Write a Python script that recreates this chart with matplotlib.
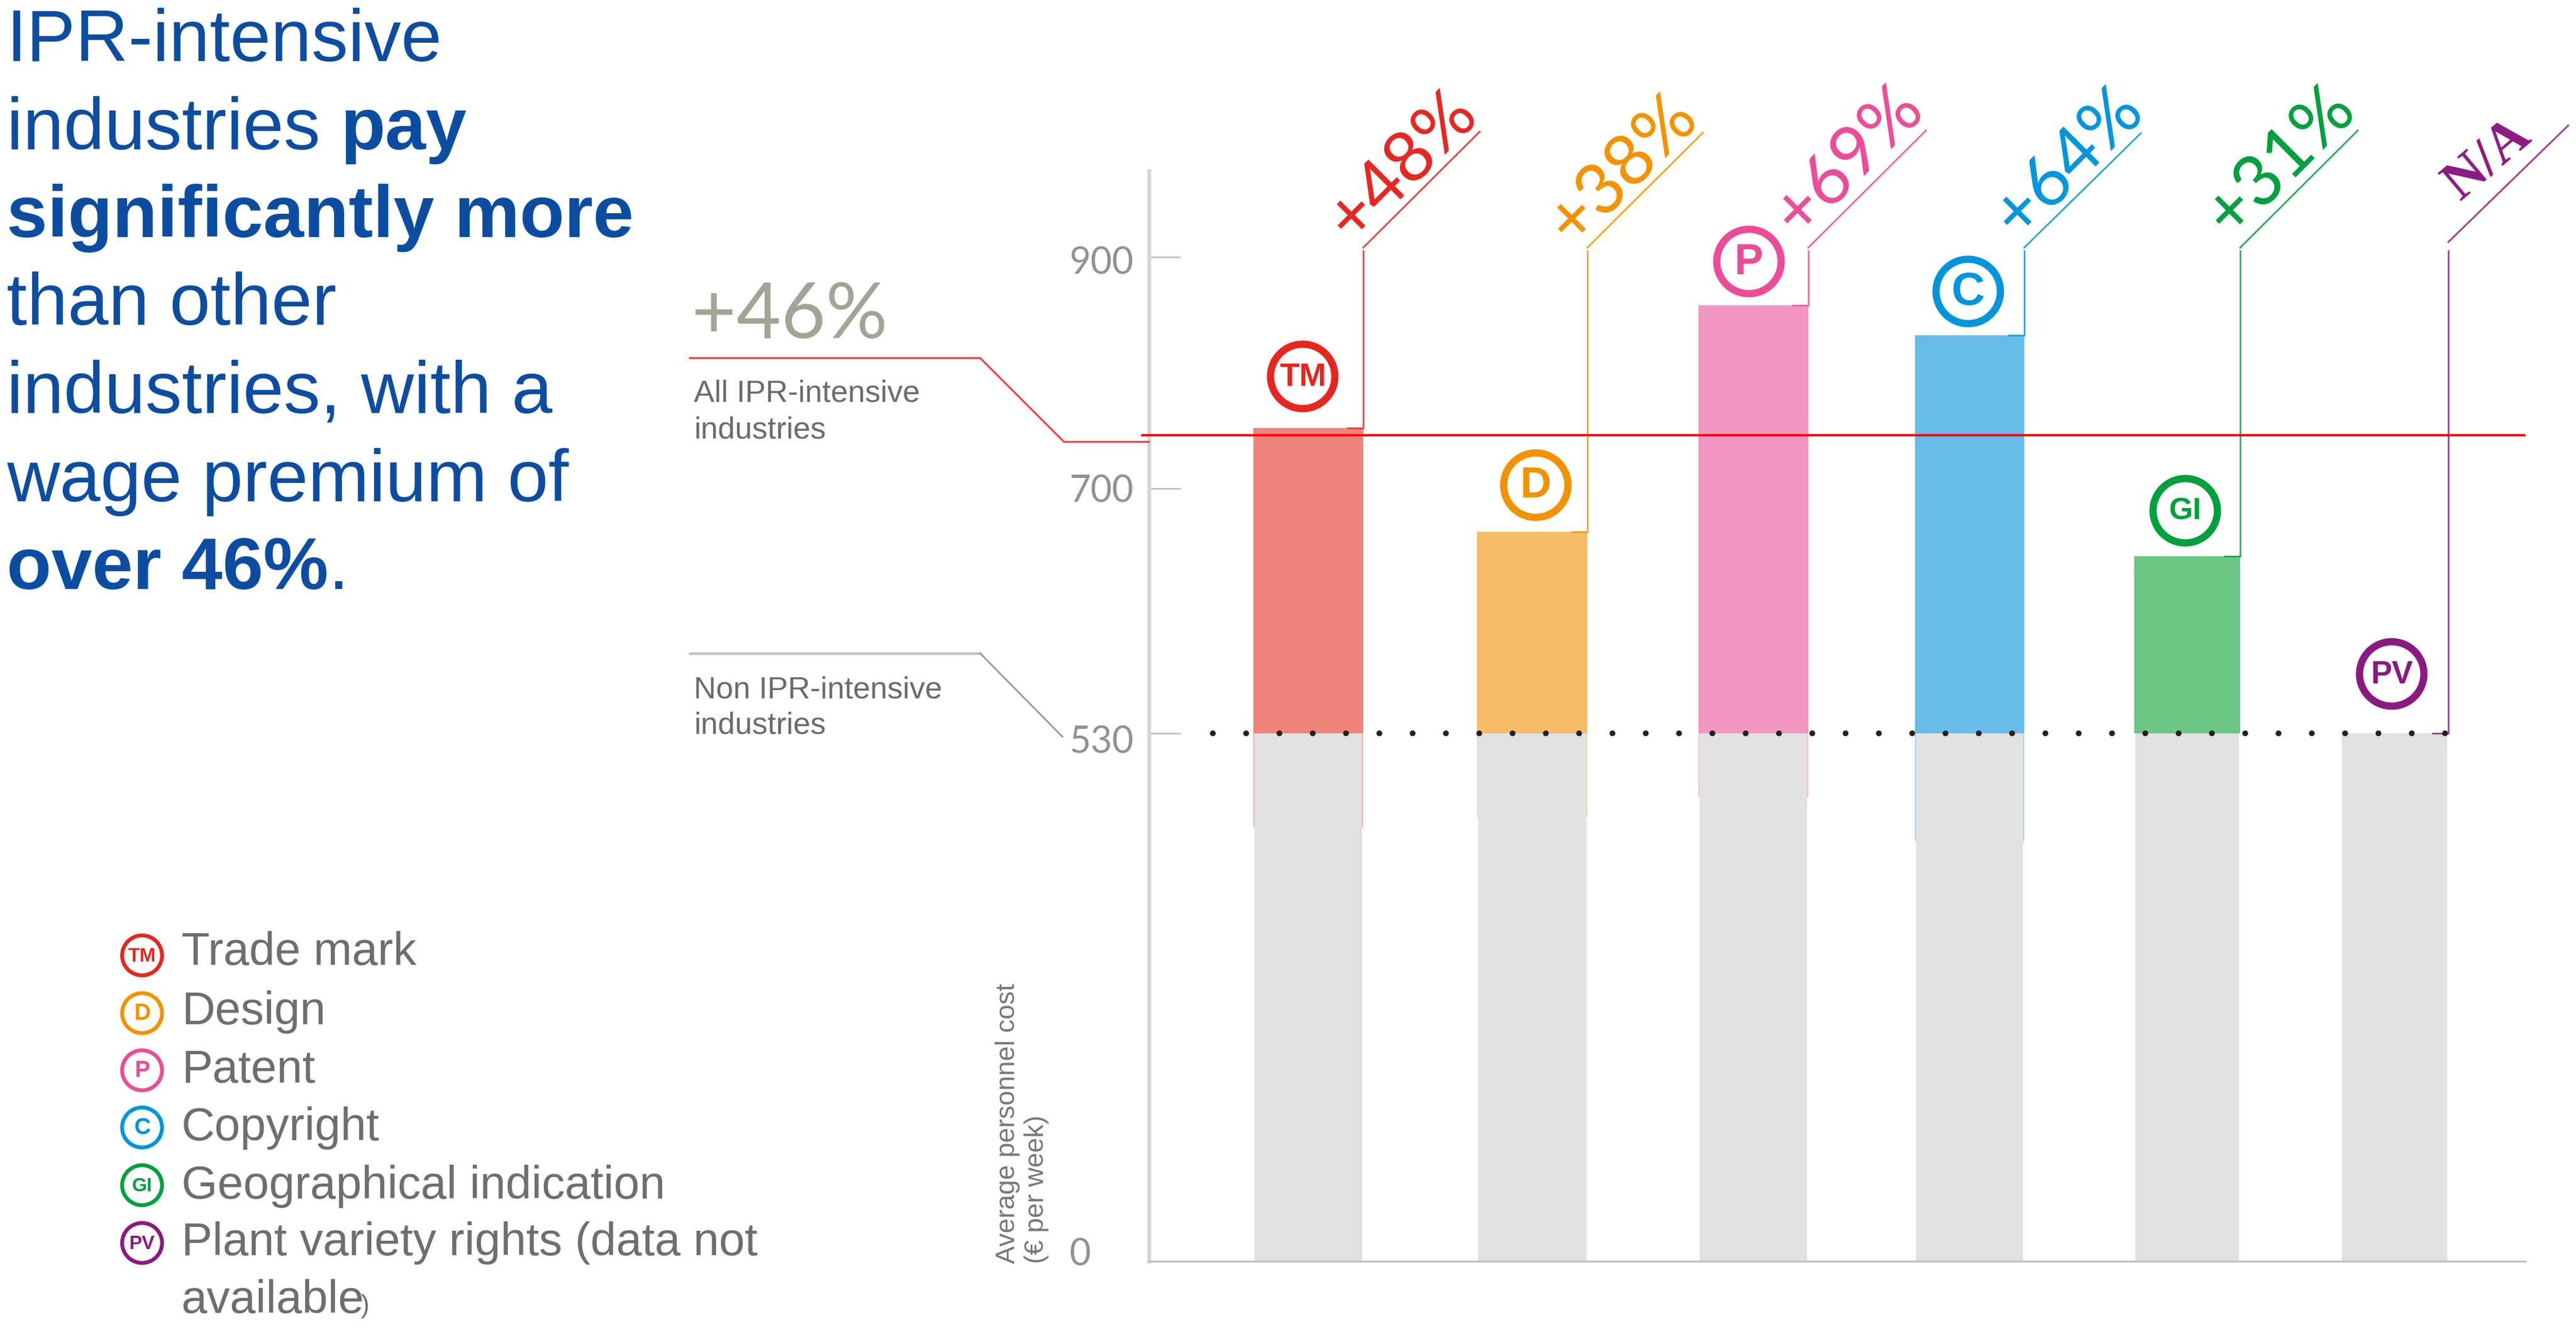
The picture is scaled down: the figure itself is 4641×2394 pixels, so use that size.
import numpy as np
import matplotlib
matplotlib.use("Agg")
from matplotlib import pyplot as plt
from matplotlib.patches import Circle
from matplotlib.transforms import ScaledTranslation

# data
codes = ["TM", "D", "P", "C", "GI", "PV"]
names = ["Trade mark", "Design", "Patent", "Copyright", "Geographical indication",
         "Plant variety rights (data not"]
premium_labels = ["+48%", "+38%", "+69%", "+64%", "+31%", "N/A"]
ipr_values = [752, 670, 858, 832, 653, 530]
stub_bottoms = [436, 445, 465, 421, 530, 530]
non_ipr_value = 530
all_ipr_value = 746
y_ticks = [0, 530, 700, 900]
title_lines = [
    [("IPR-intensive", "normal")],
    [("industries ", "normal"), ("pay", "bold")],
    [("significantly more", "bold")],
    [("than other", "normal")],
    [("industries, with a", "normal")],
    [("wage premium of", "normal")],
    [("over 46%", "bold"), (".", "normal")],
]

# colours
line_colors = ["#e6261f", "#f39200", "#ea4c97", "#0095db", "#00a03c", "#8a1a80"]
bar_colors = ["#f0837a", "#f6bc68", "#f397c2", "#66bdea", "#6cc684", "#e1e1e1"]
grey_bar = "#e1e1e1"
text_grey = "#6e6e6e"
blue = "#0c4da2"

# layout, in pixels of the output
W, H = 4641, 2394
bar_left = [2258, 2661, 3060, 3450, 3845, 4217]
bar_right = [2456, 2860, 3258, 3647, 4036, 4411]
badge_x = [2347, 2767, 3151, 3546, 3937, 4309]
badge_y = [678, 874, 471, 525, 920, 1214]
badge_size = [42, 56, 56, 60, 40, 41]
diag_end = [(2666, 237), (3068, 239), (3470, 235), (3857, 240), (4248, 235), (4627, 226)]
diag_start_y = [446, 446, 446, 446, 446, 436]
label_pos = [(2526, 299), (2923, 305), (3330, 289), (3726, 292), (4108, 290), (4482, 288)]
legend_y = [1721, 1825, 1928, 2031, 2135, 2239]
legend_base = [1738, 1845, 1950, 2054, 2159, 2261]
legend_size = [25, 30, 30, 30, 25, 25]

plt.rcParams["font.family"] = ["Liberation Sans", "DejaVu Sans"]

fig = plt.figure(figsize=(W / 100, H / 100), dpi=100)
ax = fig.add_axes([2070 / W, (H - 2272) / H, (4550 - 2070) / W, (2272 - 308) / H])

# the axis of the original is not to scale, so it is piecewise linear
knots_val = [0, 530, 700, 900, 1200]
knots_pos = [0, 951, 1392, 1809, 2436]
ax.set_yscale("function", functions=(
    lambda v: np.interp(v, knots_val, knots_pos),
    lambda p: np.interp(p, knots_pos, knots_val),
))
ax.set_xlim(2070, 4550)
ax.set_ylim(0, 974)

for i in range(6):
    left, right = bar_left[i], bar_right[i]
    width = right - left
    if stub_bottoms[i] < non_ipr_value:
        ax.bar(left, non_ipr_value - stub_bottoms[i], width, bottom=stub_bottoms[i],
               align="edge", color=bar_colors[i], alpha=0.6, zorder=1)
    ax.bar(left + 2, non_ipr_value, width - 4, align="edge", color=grey_bar, zorder=2)
    if ipr_values[i] > non_ipr_value:
        ax.bar(left, ipr_values[i] - non_ipr_value, width, bottom=non_ipr_value,
               align="edge", color=bar_colors[i], zorder=2)
    # vertical part of the leader, up from the bar top
    ax.plot([right - 28, right, right], [ipr_values[i], ipr_values[i], 905],
            color=line_colors[i], lw=2.2, alpha=0.8, zorder=3, solid_joinstyle="miter")

ax.plot([2058, 4548], [all_ipr_value, all_ipr_value], color="#ff0000", lw=3,
        zorder=4, clip_on=False)
ax.plot([2185, 4455], [non_ipr_value, non_ipr_value], color="#222222", lw=7.5,
        ls=(0, (0.01, 5.75)), dash_capstyle="round", zorder=4)

ax.set_xticks([])
ax.set_yticks(y_ticks, [str(t) for t in y_ticks])
ax.tick_params(axis="y", direction="in", length=41, width=2, color="#bdbdbd", pad=20,
               labelsize=48, labelcolor="#929292")
for lbl in ax.get_yticklabels():
    lbl.set_fontfamily(["Lato", "Liberation Sans"])
tick_shift = {"0": (-77, 17), "530": (0, -11), "700": (0, 0), "900": (0, -6)}
for lbl in ax.get_yticklabels():
    dx, dy = tick_shift[lbl.get_text()]
    lbl.set_transform(lbl.get_transform() + ScaledTranslation(dx / 100, dy / 100, fig.dpi_scale_trans))
for side in ["top", "right"]:
    ax.spines[side].set_visible(False)
ax.spines["left"].set_linewidth(5)
ax.spines["left"].set_color("#d6d6d6")
ax.spines["bottom"].set_linewidth(2.5)
ax.spines["bottom"].set_color("#c0c0c0")
ax.set_ylabel("Average personnel cost\n(€ per week)", fontsize=34.7, color="#777777",
              loc="bottom", linespacing=1.2)
ax.yaxis.set_label_coords((1890 - 2070) / (4550 - 2070), -0.002)

# overlay for everything that lives outside the chart axes
ov = fig.add_axes([0, 0, 1, 1], zorder=3)
ov.set_xlim(0, W)
ov.set_ylim(H, 0)
ov.axis("off")

for i in range(6):
    c = line_colors[i]
    ex, ey = diag_end[i]
    ov.plot([bar_right[i], ex], [diag_start_y[i], ey], color=c, lw=2.2, alpha=0.85)
    ov.add_patch(Circle((badge_x[i], badge_y[i]), 58, fill=False, ec=c, lw=9.4))
    ov.text(badge_x[i], badge_y[i] + 2, codes[i], color=c, fontsize=badge_size[i],
            fontweight="bold", ha="center", va="center")
    lx, ly = label_pos[i]
    if premium_labels[i] == "N/A":
        ov.text(lx, ly, premium_labels[i], color=c, fontsize=72, rotation=40, fontweight="bold",
                family="Liberation Serif", ha="center", va="center", rotation_mode="anchor")
    else:
        ov.text(lx, ly, premium_labels[i], color=c, fontsize=92, rotation=45,
                family=["Lato", "Liberation Sans"], ha="center", va="center", rotation_mode="anchor")

    # legend
    ov.add_patch(Circle((256, legend_y[i]), 36, fill=False, ec=c, lw=5))
    ov.text(256, legend_y[i] + 1, codes[i], color=c, fontsize=legend_size[i],
            fontweight="bold", ha="center", va="center")
    ov.text(327, legend_base[i], names[i], color=text_grey, fontsize=60, va="baseline")

ov.text(327, 2365, "available", color=text_grey, fontsize=60, va="baseline")
ov.text(650, 2365, ")", color=text_grey, fontsize=34, va="baseline")

# title
base = 110
for parts in title_lines:
    x = 12
    for part, weight in parts:
        t = ov.text(x, base, part, color=blue, fontsize=95, fontweight=weight, va="baseline")
        x += t.get_window_extent(fig.canvas.get_renderer()).width
    base += 158.5

# the two callouts on the left
ov.text(1246, 609, "+46%", color="#a3a396", fontsize=100, va="baseline",
        family=["Lato", "Liberation Sans"])
ov.plot([1243, 1766, 1917, 2070], [645, 645, 796, 796], color="#e9494c", lw=2.6)
ov.text(1250, 723, "All IPR-intensive", color="#6a6a74", fontsize=40, va="baseline")
ov.text(1250, 789, "industries", color="#6a6a74", fontsize=40, va="baseline")
ov.plot([1243, 1766], [1177, 1177], color="#c4c4c4", lw=3.5)
ov.plot([1766, 1914], [1177, 1327], color="#9a9a9a", lw=2.2)
ov.text(1250, 1257, "Non IPR-intensive", color="#6a6a74", fontsize=40, va="baseline")
ov.text(1250, 1322, "industries", color="#6a6a74", fontsize=40, va="baseline")

fig.savefig("out.png", dpi=100)
